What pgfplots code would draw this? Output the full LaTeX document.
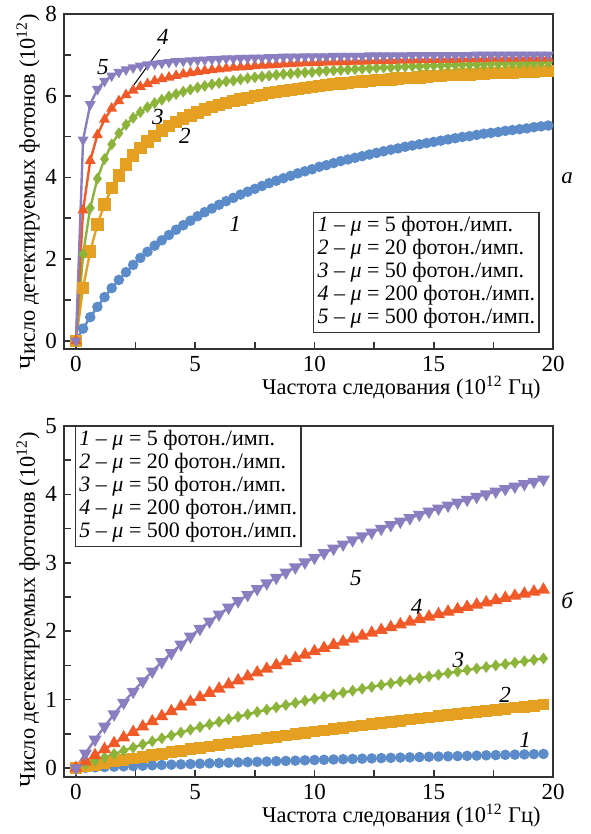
\documentclass[border=0pt]{standalone}
\usepackage{fontspec}
\setmainfont{Liberation Serif}
\usepackage{pgfplots}
\pgfplotsset{compat=1.18}
\usepackage{pgfplotstable}

\definecolor{cblue}{HTML}{5B8BC8}
\definecolor{corange}{HTML}{E6A021}
\definecolor{cgreen}{HTML}{8DB43A}
\definecolor{cred}{HTML}{F05A28}
\definecolor{cpurple}{HTML}{8A7DC0}
\definecolor{cframe}{HTML}{333333}

% panel a: x step 0.3
\pgfplotstableread{
x c1 c2 c3 c4 c5
0 0 0 0 0 0
0.3 0.30 1.30 2.12 3.20 4.92
0.6 0.58 2.19 3.25 4.41 5.79
0.9 0.83 2.85 3.97 5.04 6.16
1.2 1.07 3.34 4.45 5.42 6.36
1.5 1.29 3.74 4.81 5.69 6.49
1.8 1.49 4.05 5.08 5.87 6.58
2.1 1.68 4.32 5.29 6.02 6.64
2.4 1.86 4.54 5.46 6.13 6.69
2.7 2.03 4.72 5.60 6.22 6.73
3.0 2.18 4.88 5.72 6.29 6.76
3.3 2.33 5.02 5.82 6.36 6.78
3.6 2.46 5.15 5.90 6.41 6.80
3.9 2.59 5.26 5.98 6.45 6.82
4.2 2.72 5.35 6.04 6.49 6.84
4.5 2.83 5.44 6.10 6.53 6.85
4.8 2.94 5.52 6.15 6.56 6.86
5.1 3.05 5.59 6.20 6.59 6.87
5.4 3.15 5.66 6.24 6.61 6.88
5.7 3.24 5.72 6.28 6.63 6.89
6.0 3.33 5.77 6.31 6.65 6.90
6.3 3.42 5.82 6.35 6.67 6.91
6.6 3.50 5.87 6.37 6.69 6.91
6.9 3.58 5.91 6.40 6.70 6.92
7.2 3.65 5.95 6.43 6.71 6.92
7.5 3.72 5.99 6.45 6.73 6.93
7.8 3.79 6.02 6.47 6.74 6.93
8.1 3.86 6.06 6.49 6.75 6.94
8.4 3.92 6.09 6.51 6.76 6.94
8.7 3.98 6.12 6.53 6.77 6.95
9.0 4.04 6.14 6.54 6.78 6.95
9.3 4.10 6.17 6.56 6.79 6.95
9.6 4.15 6.19 6.57 6.80 6.96
9.9 4.20 6.22 6.58 6.80 6.96
10.2 4.26 6.24 6.60 6.81 6.96
10.5 4.30 6.26 6.61 6.82 6.96
10.8 4.35 6.28 6.62 6.82 6.97
11.1 4.40 6.30 6.63 6.83 6.97
11.4 4.44 6.31 6.64 6.83 6.97
11.7 4.48 6.33 6.65 6.84 6.97
12.0 4.52 6.35 6.66 6.84 6.97
12.3 4.56 6.36 6.67 6.85 6.98
12.6 4.60 6.38 6.68 6.85 6.98
12.9 4.64 6.39 6.69 6.86 6.98
13.2 4.68 6.40 6.69 6.86 6.98
13.5 4.71 6.42 6.70 6.87 6.98
13.8 4.75 6.43 6.71 6.87 6.98
14.1 4.78 6.44 6.72 6.87 6.99
14.4 4.81 6.45 6.72 6.88 6.99
14.7 4.84 6.47 6.73 6.88 6.99
15.0 4.87 6.48 6.74 6.88 6.99
15.3 4.90 6.49 6.74 6.89 6.99
15.6 4.93 6.50 6.75 6.89 6.99
15.9 4.96 6.51 6.75 6.89 6.99
16.2 4.99 6.52 6.76 6.90 6.99
16.5 5.01 6.52 6.76 6.90 6.99
16.8 5.04 6.53 6.77 6.90 7.00
17.1 5.07 6.54 6.77 6.90 7.00
17.4 5.09 6.55 6.78 6.91 7.00
17.7 5.11 6.56 6.78 6.91 7.00
18.0 5.14 6.56 6.79 6.91 7.00
18.3 5.16 6.57 6.79 6.91 7.00
18.6 5.18 6.58 6.79 6.92 7.00
18.9 5.20 6.59 6.80 6.92 7.00
19.2 5.23 6.59 6.80 6.92 7.00
19.5 5.25 6.60 6.81 6.92 7.00
19.8 5.27 6.61 6.81 6.92 7.00
}\dataA

% panel b: x step 0.4
\pgfplotstableread{
x c1 c2 c3 c4 c5
0 0 0 0 0 0
0.4 0.005 0.025 0.054 0.095 0.216
0.8 0.011 0.049 0.106 0.187 0.418
1.2 0.016 0.073 0.157 0.276 0.608
1.6 0.021 0.096 0.206 0.363 0.788
2.0 0.026 0.119 0.254 0.446 0.958
2.4 0.031 0.142 0.301 0.527 1.118
2.8 0.036 0.165 0.347 0.606 1.270
3.2 0.041 0.188 0.392 0.682 1.414
3.6 0.046 0.210 0.436 0.757 1.551
4.0 0.051 0.232 0.478 0.829 1.682
4.4 0.055 0.254 0.520 0.899 1.806
4.8 0.060 0.275 0.561 0.967 1.924
5.2 0.065 0.296 0.601 1.033 2.037
5.6 0.070 0.317 0.639 1.097 2.145
6.0 0.074 0.338 0.677 1.160 2.248
6.4 0.079 0.359 0.715 1.221 2.347
6.8 0.083 0.379 0.751 1.281 2.442
7.2 0.088 0.399 0.786 1.339 2.532
7.6 0.092 0.419 0.821 1.395 2.620
8.0 0.096 0.438 0.855 1.450 2.703
8.4 0.101 0.458 0.889 1.504 2.784
8.8 0.105 0.477 0.921 1.556 2.861
9.2 0.109 0.496 0.953 1.607 2.936
9.6 0.114 0.515 0.984 1.657 3.008
10.0 0.118 0.533 1.015 1.706 3.077
10.4 0.122 0.552 1.045 1.754 3.144
10.8 0.126 0.570 1.075 1.800 3.209
11.2 0.130 0.588 1.104 1.846 3.271
11.6 0.134 0.606 1.132 1.890 3.332
12.0 0.138 0.623 1.160 1.933 3.390
12.4 0.142 0.641 1.187 1.976 3.446
12.8 0.146 0.658 1.214 2.017 3.501
13.2 0.150 0.675 1.240 2.058 3.554
13.6 0.154 0.692 1.266 2.098 3.605
14.0 0.157 0.709 1.291 2.137 3.655
14.4 0.161 0.725 1.316 2.175 3.704
14.8 0.165 0.742 1.340 2.212 3.750
15.2 0.169 0.758 1.364 2.249 3.796
15.6 0.172 0.774 1.388 2.285 3.840
16.0 0.176 0.790 1.411 2.320 3.883
16.4 0.179 0.806 1.434 2.355 3.925
16.8 0.183 0.822 1.456 2.388 3.966
17.2 0.187 0.837 1.478 2.421 4.005
17.6 0.190 0.852 1.500 2.454 4.044
18.0 0.194 0.868 1.521 2.486 4.081
18.4 0.197 0.883 1.542 2.517 4.117
18.8 0.200 0.897 1.562 2.548 4.153
19.2 0.204 0.912 1.582 2.578 4.188
19.6 0.207 0.927 1.602 2.607 4.221
}\dataB

\pgfplotsset{
  panel/.style={
    scale only axis, width=244.5pt,
    xmin=-0.5, xmax=20, xtick={0,5,10,15,20}, minor x tick num=1,
    tick align=inside, xtick pos=left, ytick pos=left,
    major tick length=3.5pt, minor tick length=3.5pt,
    axis line style={draw=cframe, line width=1.1pt},
    every tick/.style={draw=cframe, line width=0.8pt},
    tick label style={font=\fontsize{11.5}{12}\selectfont},
    label style={font=\fontsize{11.2}{12}\selectfont},
    /pgf/number format/assume math mode=true,
    xlabel={Частота следования (10\textsuperscript{12} Гц)},
    ylabel={Число детектируемых фотонов (10\textsuperscript{12})},
    xlabel style={at={(axis description cs:0.69,0)}, anchor=center, yshift=-19.5pt},
    ylabel style={at={(axis description cs:-0.0736,0.47)}, anchor=center},
    every axis plot/.append style={line width=1.2pt, mark options={solid}},
    clip=false,
  },
}
\tikzset{
  lg/.style={draw=cframe, line width=0.7pt, fill=white, align=left,
    inner xsep=2pt, inner ysep=2pt, font=\fontsize{11}{11.5}\selectfont},
  cl/.style={font=\itshape\fontsize{11.5}{12}\selectfont},
}

\begin{document}
\begin{tikzpicture}
\begin{axis}[panel, at={(0,0)}, height=167.5pt,
  ymin=-0.2, ymax=8, ytick={0,2,4,6,8}, minor y tick num=1]
\addplot[cblue, mark=*, mark size=2pt] table[x=x,y=c1] {\dataA};
\addplot[corange, mark=square*, mark size=2.5pt] table[x=x,y=c2] {\dataA};
\addplot[cgreen, mark=diamond*, mark size=2pt] table[x=x,y=c3] {\dataA};
\addplot[cred, mark=triangle*, mark size=2pt] table[x=x,y=c4] {\dataA};
\addplot[cpurple, mark=triangle*, mark size=2pt, mark options={rotate=180}] table[x=x,y=c5] {\dataA};
\node[cl] at (axis cs:1.13,6.70) {5};
\node[cl] at (axis cs:3.65,7.44) {4};
\draw[black, line width=0.5pt] (axis cs:3.52,7.14) -- (axis cs:2.26,6.13);
\node[cl] at (axis cs:3.44,5.47) {3};
\node[cl] at (axis cs:4.57,5.01) {2};
\node[cl] at (axis cs:6.67,2.85) {1};
\node[lg, anchor=south east] at (rel axis cs:0.973,0.048) {%
\textit{1} – \textit{μ} = 5 фотон./имп.\\
\textit{2} – \textit{μ} = 20 фотон./имп.\\
\textit{3} – \textit{μ} = 50 фотон./имп.\\
\textit{4} – \textit{μ} = 200 фотон./имп.\\
\textit{5} – \textit{μ} = 500 фотон./имп.};
\node[cl] at (rel axis cs:1.029,0.51) {а};
\end{axis}

\begin{axis}[panel, at={(0,-214pt)}, height=175.5pt,
  ymin=-0.13, ymax=5, ytick={0,1,2,3,4,5}, minor y tick num=1,
  ylabel style={at={(axis description cs:-0.0736,0.476)}}]
\addplot[cblue, mark=*, mark size=2pt] table[x=x,y=c1] {\dataB};
\addplot[corange, mark=square*, mark size=2.3pt] table[x=x,y=c2] {\dataB};
\addplot[cgreen, mark=diamond*, mark size=2pt] table[x=x,y=c3] {\dataB};
\addplot[cred, mark=triangle*, mark size=2.6pt] table[x=x,y=c4] {\dataB};
\addplot[cpurple, mark=triangle*, mark size=2.6pt, mark options={rotate=180}] table[x=x,y=c5] {\dataB};
\node[cl] at (axis cs:11.74,2.78) {5};
\node[cl] at (axis cs:14.28,2.36) {4};
\node[cl] at (axis cs:16.03,1.58) {3};
\node[cl] at (axis cs:17.99,1.07) {2};
\node[cl] at (axis cs:18.83,0.41) {1};
\node[lg, anchor=north west] at (rel axis cs:0.022,1) {%
\textit{1} – \textit{μ} = 5 фотон./имп.\\
\textit{2} – \textit{μ} = 20 фотон./имп.\\
\textit{3} – \textit{μ} = 50 фотон./имп.\\
\textit{4} – \textit{μ} = 200 фотон./имп.\\
\textit{5} – \textit{μ} = 500 фотон./имп.};
\node[cl] at (rel axis cs:1.029,0.504) {б};
\end{axis}
\pgfresetboundingbox
\path[use as bounding box] (-32pt,174.5pt) rectangle (263pt,-242.5pt);
\end{tikzpicture}
\end{document}
